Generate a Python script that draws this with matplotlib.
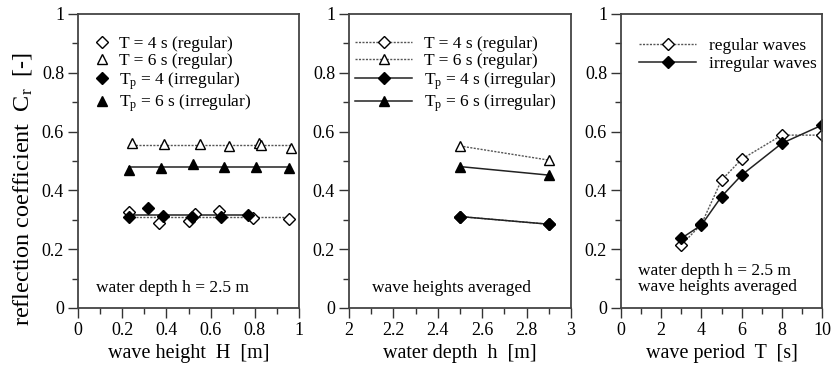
import numpy as np
import matplotlib
matplotlib.use("Agg")
import matplotlib.pyplot as plt
from matplotlib.ticker import MultipleLocator

plt.rcParams["font.family"] = ["Liberation Serif", "DejaVu Serif"]
plt.rcParams["mathtext.fontset"] = "custom"
plt.rcParams["mathtext.rm"] = "Liberation Serif"
plt.rcParams["mathtext.it"] = "Liberation Serif:italic"

# panel 1: wave height H [m], water depth 2.5 m
H_reg4 = [0.233, 0.367, 0.504, 0.528, 0.638, 0.79, 0.956]
C_reg4 = [0.328, 0.288, 0.297, 0.319, 0.330, 0.307, 0.302]
H_reg6 = [0.245, 0.389, 0.55, 0.683, 0.82, 0.83, 0.965]
C_reg6 = [0.560, 0.557, 0.557, 0.551, 0.560, 0.556, 0.543]
H_irr4 = [0.233, 0.319, 0.385, 0.516, 0.647, 0.77]
C_irr4 = [0.311, 0.339, 0.314, 0.308, 0.311, 0.316]
H_irr6 = [0.233, 0.374, 0.519, 0.66, 0.807, 0.953]
C_irr6 = [0.469, 0.475, 0.490, 0.481, 0.480, 0.475]

# panel 2: water depth h [m], wave heights averaged
depth = [2.5, 2.9]
C_depth_reg4 = [0.311, 0.285]
C_depth_reg6 = [0.551, 0.503]
C_depth_irr4 = [0.311, 0.285]
C_depth_irr6 = [0.481, 0.452]

# panel 3: wave period T [s]
period = [3, 4, 5, 6, 8, 10]
C_per_reg = [0.214, 0.285, 0.435, 0.506, 0.588, 0.588]
C_per_irr = [0.237, 0.282, 0.379, 0.452, 0.560, 0.622]

fig = plt.figure(figsize=(8.38, 3.67), dpi=100)
W, Hf = 838, 367
boxes = [(78, 299), (349, 571), (621, 822)]
axs = [fig.add_axes([l / W, 1 - 308 / Hf, (r - l) / W, 294 / Hf]) for l, r in boxes]

fs_leg = 12.5
dot = dict(color="#555555", lw=1.0, ls=(0, (1.5, 1)))
sol = dict(color="#222222", lw=1.1, ls="-")
dia_o = dict(marker="D", markersize=6, markeredgewidth=1.0, markeredgecolor="black", markerfacecolor="white")
dia_f = dict(marker="D", markersize=6, markeredgewidth=1.0, markeredgecolor="black", markerfacecolor="black")
tri_o = dict(marker="^", markersize=7, markeredgewidth=1.0, markeredgecolor="black", markerfacecolor="white")
tri_f = dict(marker="^", markersize=7, markeredgewidth=1.0, markeredgecolor="black", markerfacecolor="black")
leg = dict(loc="upper left", frameon=False, fontsize=fs_leg, borderpad=0.0, borderaxespad=0.0)

# panel 1
ax = axs[0]
for xs, ys, style in [(H_reg4, C_reg4, dot), (H_reg6, C_reg6, dot),
                      (H_irr4, C_irr4, sol), (H_irr6, C_irr6, sol)]:
    ax.plot([min(xs), max(xs)], [np.mean(ys)] * 2, **style, zorder=1)
ax.plot(H_reg4, C_reg4, ls="none", **dia_o, label="T = 4 s (regular)")
ax.plot(H_reg6, C_reg6, ls="none", **tri_o, label="T = 6 s (regular)")
ax.plot(H_irr4, C_irr4, ls="none", **dia_f, label="T$_\\mathrm{p}$ = 4 (irregular)")
ax.plot(H_irr6, C_irr6, ls="none", **tri_f, label="T$_\\mathrm{p}$ = 6 s (irregular)")
ax.set_xlim(0, 1)
ax.xaxis.set_minor_locator(MultipleLocator(0.1))
ax.set_xticks([0, 0.2, 0.4, 0.6, 0.8, 1], ["0", "0.2", "0.4", "0.6", "0.8", "1"])
ax.set_xlabel("wave height  H  [m]", fontsize=14.5)
ax.set_ylabel("reflection coefficient  C$_\\mathrm{r}$  [-]", fontsize=17.5)
ax.yaxis.set_label_coords(-0.20, 0.405)
ax.text(0.081, 0.068, "water depth h = 2.5 m", transform=ax.transAxes, fontsize=fs_leg, va="center")
ax.legend(bbox_to_anchor=(0.068, 0.925), handlelength=1.0, handletextpad=0.5, labelspacing=0.05, **leg)

# panel 2
ax = axs[1]
ax.plot(depth, C_depth_reg4, **dot, **dia_o, label="T = 4 s (regular)")
ax.plot(depth, C_depth_reg6, **dot, **tri_o, label="T = 6 s (regular)")
ax.plot(depth, C_depth_irr4, **sol, **dia_f, label="T$_\\mathrm{p}$ = 4 s (irregular)")
ax.plot(depth, C_depth_irr6, **sol, **tri_f, label="T$_\\mathrm{p}$ = 6 s (irregular)")
ax.set_xlim(2, 3)
ax.xaxis.set_minor_locator(MultipleLocator(0.1))
ax.set_xticks([2, 2.2, 2.4, 2.6, 2.8, 3], ["2", "2.2", "2.4", "2.6", "2.8", "3"])
ax.set_xlabel("water depth  h  [m]", fontsize=14.5)
ax.text(0.104, 0.068, "wave heights averaged", transform=ax.transAxes, fontsize=fs_leg, va="center")
ax.legend(bbox_to_anchor=(0.027, 0.925), handlelength=3.3, handletextpad=0.7, labelspacing=0.05, **leg)

# panel 3
ax = axs[2]
ax.plot(period, C_per_reg, **dot, **dia_o, label="regular waves")
ax.plot(period, C_per_irr, **sol, **dia_f, label="irregular waves")
ax.set_xlim(0, 10)
ax.xaxis.set_minor_locator(MultipleLocator(1))
ax.set_xticks([0, 2, 4, 6, 8, 10])
ax.set_xlabel("wave period  T  [s]", fontsize=14.5)
ax.text(0.085, 0.099, "water depth h = 2.5 m\nwave heights averaged", transform=ax.transAxes,
        fontsize=fs_leg, linespacing=1.0, va="center")
ax.legend(bbox_to_anchor=(0.09, 0.92), handlelength=3.3, handletextpad=0.7, labelspacing=0.12, **leg)

for ax in axs:
    ax.set_ylim(0, 1)
    ax.set_yticks([0, 0.2, 0.4, 0.6, 0.8, 1], ["0", "0.2", "0.4", "0.6", "0.8", "1"])
    ax.yaxis.set_minor_locator(MultipleLocator(0.1))
    ax.tick_params(which="both", direction="out", labelsize=13, color="#333333", width=1.0, pad=3)
    ax.tick_params(which="major", length=7)
    ax.tick_params(which="minor", length=4)
    for s in ax.spines.values():
        s.set_color("#444444")
        s.set_linewidth(1.3)

fig.savefig("out.png", dpi=100)
